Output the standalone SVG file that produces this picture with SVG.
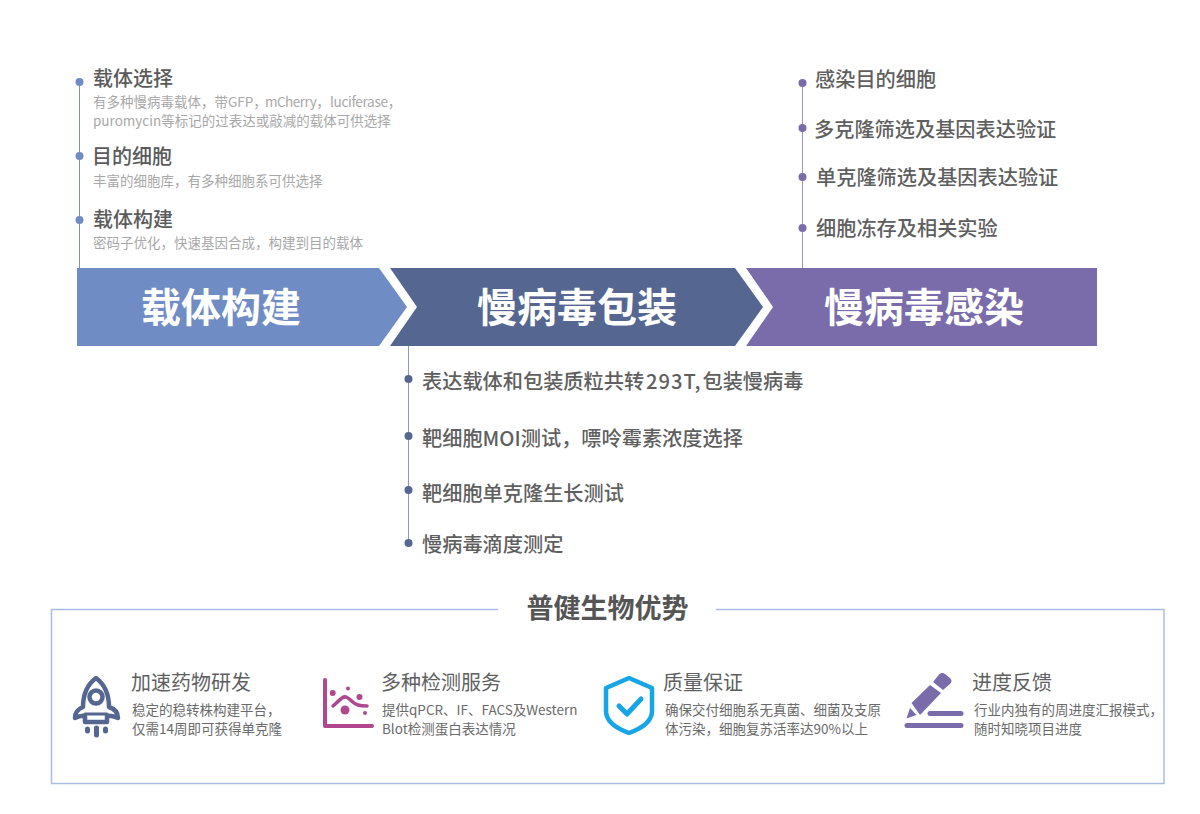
<svg xmlns="http://www.w3.org/2000/svg" width="1200" height="814" viewBox="0 0 1200 814">
<style>
text{font-family:"Noto Sans CJK SC","Noto Sans",sans-serif}
.h{font-size:20px;font-weight:500;fill:#5a5a5a}
.s{font-size:13.500px;fill:#a8a8a8}
.m{font-size:20.200px;font-weight:500;fill:#5f5f5f}
.b{font-size:40px;font-weight:700;fill:#fff}
.d{font-size:13.500px;fill:#6a6a6a}
.t{font-size:20px;font-weight:400;fill:#5f5f5f}
.v1{stroke:#7a93c9;stroke-width:1;fill:none}
</style>
<rect width="1200" height="814" fill="#fff"/>
<g id="connectors">
<path class="v1" d="M79.500 81V268"/>
<path d="M408.500 346V544" stroke="#8b97bd" fill="none"/>
<path d="M802.500 82V268" stroke="#a094c4" fill="none"/>
</g>
<g id="node-vector">
<path d="M77 268H379L407 307L379 346H77Z" fill="#708cc5"/>
<text class="b" x="221" y="322" text-anchor="middle">载体构建</text>
</g>
<g id="node-package">
<path d="M390 268H735L763 307L735 346H390L417 307Z" fill="#556691"/>
<text class="b" x="577" y="322" text-anchor="middle">慢病毒包装</text>
</g>
<g id="node-infect">
<path d="M746 268H1097V346H746L773 307Z" fill="#7a6cab"/>
<text class="b" x="924" y="322" text-anchor="middle">慢病毒感染</text>
</g>
<g id="top-left" fill="#708cc5">
<circle cx="79.500" cy="82" r="4"/><circle cx="79.500" cy="156" r="4"/><circle cx="79.500" cy="220" r="4"/>
<text class="h" x="93" y="86">载体选择</text>
<text class="s" x="93" y="107">有多种慢病毒载体，带GFP，<tspan x="265" letter-spacing="-0.500">mCherry</tspan>，<tspan x="330" letter-spacing="-0.300">luciferase</tspan>，</text>
<text class="s" x="93" y="126">puromycin等标记的过表达或敲减的载体可供选择</text>
<text class="h" x="92" y="164">目的细胞</text>
<text class="s" x="93" y="186">丰富的细胞库，有多种细胞系可供选择</text>
<text class="h" x="93" y="227">载体构建</text>
<text class="s" x="93" y="248">密码子优化，快速基因合成，构建到目的载体</text>
</g>
<g id="top-right" fill="#7a6cab">
<circle cx="802.500" cy="83" r="4"/><circle cx="802.500" cy="128" r="4"/><circle cx="802.500" cy="177" r="4"/><circle cx="802.500" cy="228" r="4"/>
<text class="m" x="815" y="87">感染目的细胞</text>
<text class="m" x="814" y="137">多克隆筛选及基因表达验证</text>
<text class="m" x="816" y="185">单克隆筛选及基因表达验证</text>
<text class="m" x="816" y="236">细胞冻存及相关实验</text>
</g>
<g id="bottom-mid" fill="#556691">
<circle cx="408.500" cy="379" r="4"/><circle cx="408.500" cy="436" r="4"/><circle cx="408.500" cy="490" r="4"/><circle cx="408.500" cy="543" r="4"/>
<text class="m" x="422" y="389">表达载体和包装质粒共转<tspan dx="2" letter-spacing="1">293T,</tspan><tspan dx="1">包装慢病毒</tspan></text>
<text class="m" x="422" y="446">靶细胞MOI测试，嘌呤霉素浓度选择</text>
<text class="m" x="422" y="501">靶细胞单克隆生长测试</text>
<text class="m" x="422" y="552">慢病毒滴度测定</text>
</g>
<g id="advantages">
<rect x="51.500" y="609.500" width="1112.500" height="174" fill="none" stroke="#a9bde2" stroke-width="1.500"/>
<rect x="498" y="590" width="218" height="44" fill="#fff"/>
<text x="607.500" y="618" text-anchor="middle" font-size="27" font-weight="700" fill="#555">普健生物优势</text>
</g>
<g id="adv-1">
<g fill="none" stroke="#556691" stroke-width="4.500" stroke-linecap="round" stroke-linejoin="round">
<path d="M96 678C88 684 83 694 83 707C78 709 75 713 75 718C79 716 82 715 85 716V722H107V716C110 715 113 716 118 718C118 713 115 709 109 707C109 694 104 684 96 678Z"/>
<circle cx="96" cy="697" r="6.500"/>
<path d="M85 714H107" stroke-width="3"/>
</g>
<g stroke="#556691" stroke-linecap="round"><path d="M87.500 729V731M96.500 728V735M105.500 729V731" stroke-width="5"/></g>
<text class="t" x="131" y="690">加速药物研发</text>
<text class="d" x="132" y="715">稳定的稳转株构建平台，</text>
<text class="d" x="132" y="734">仅需14周即可获得单克隆</text>
</g>
<g id="adv-2">
<path d="M325 680V726H372" fill="none" stroke="#b0478f" stroke-width="4" stroke-linecap="round" stroke-linejoin="round"/>
<g fill="#b0478f"><circle cx="332.700" cy="693" r="3"/><circle cx="345" cy="710" r="4.500"/><circle cx="359.500" cy="697" r="3"/><circle cx="348" cy="688.500" r="2"/><circle cx="365" cy="713" r="2"/></g>
<path d="M333 706C339 701 342 696 346 697C351 699 353 704 358 705C361 706 364 706 367 706" fill="none" stroke="#b0478f" stroke-width="3.500" stroke-linecap="round"/>
<text class="t" x="381" y="690">多种检测服务</text>
<text class="d" x="382" y="715">提供qPCR、IF、FACS及Western</text>
<text class="d" x="382" y="734">Blot检测蛋白表达情况</text>
</g>
<g id="adv-3">
<path d="M629 678L652 688V711C652 722 640 729 629 733C618 729 606 722 606 711V688Z" fill="none" stroke="#16a6e6" stroke-width="4.500" stroke-linejoin="round"/>
<path d="M619 706L627 714L641 699" fill="none" stroke="#16a6e6" stroke-width="5" stroke-linecap="round" stroke-linejoin="round"/>
<text class="t" x="663" y="690">质量保证</text>
<text class="d" x="665" y="715">确保交付细胞系无真菌、细菌及支原</text>
<text class="d" x="665" y="734">体污染，细胞复苏活率达90%以上</text>
</g>
<g id="adv-4">
<path d="M933 682L939 674.500C941 672.500 943 672.500 945 674L950 678C952 680 952 682 950 684L943 690Z" fill="#7a6cab"/>
<path d="M930 685L941 693L920 715L911.500 703Z" fill="#7a6cab"/>
<path d="M910 708L916.500 715L906.500 718.500Z" fill="#7a6cab"/>
<path d="M907 725.500H961" stroke="#7a6cab" stroke-width="5" stroke-linecap="round"/>
<path d="M930 713.500H961" stroke="#7a6cab" stroke-width="5" stroke-linecap="round"/>
<text class="t" x="972" y="690">进度反馈</text>
<text class="d" x="974" y="715">行业内独有的周进度汇报模式，</text>
<text class="d" x="974" y="734">随时知晓项目进度</text>
</g>
</svg>
